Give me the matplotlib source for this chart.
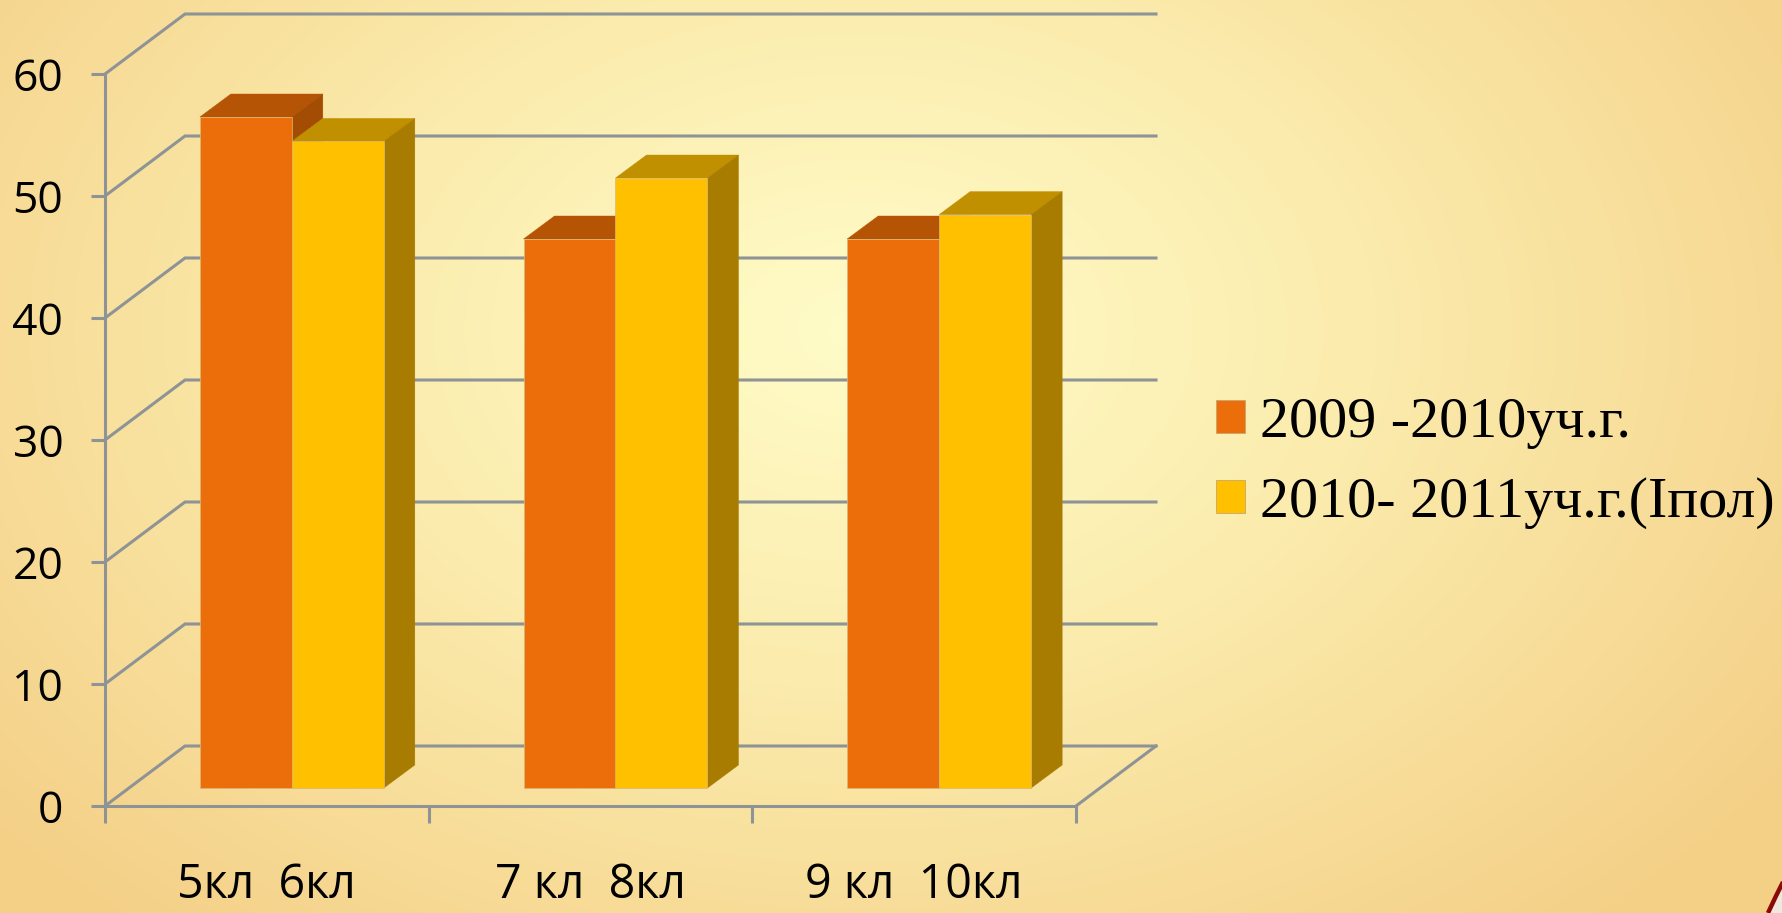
import numpy as np
import matplotlib
matplotlib.use("Agg")
import matplotlib.pyplot as plt
from matplotlib.patches import Polygon, Patch
from matplotlib.colors import LinearSegmentedColormap

categories = ["5кл  6кл", "7 кл  8кл", "9 кл  10кл"]
series_names = ["2009 -2010уч.г.", "2010- 2011уч.г.(Іпол)"]
series_2009 = [55, 45, 45]
series_2010 = [53, 50, 47]
y_ticks = [0, 10, 20, 30, 40, 50, 60]

W, H = 1783, 913
fig = plt.figure(figsize=(W / 100, H / 100), dpi=100)

# background gradient
bg = fig.add_axes([0, 0, 1, 1], zorder=0)
yy, xx = np.mgrid[0:H, 0:W]
r = np.sqrt(((xx - 860) / 1150) ** 2 + ((yy - 330) / 800) ** 2)
cmap = LinearSegmentedColormap.from_list("bg", [(0, "#FFFCC8"), (0.45, "#FBEBAC"), (1, "#F4CF86")])
bg.imshow(np.clip(r, 0, 1), cmap=cmap, vmin=0, vmax=1, aspect="auto", extent=(0, W, H, 0))
bg.set_xlim(0, W)
bg.set_ylim(H, 0)
bg.axis("off")
bg.add_patch(Polygon([(1783, 882), (1776, 896), (1768, 913), (1783, 913)], fc="#EEE9DC", ec="none"))
bg.plot([1783, 1776, 1768], [882, 896, 913], color="#8B0A05", lw=3.2, solid_capstyle="butt")

# chart axes = front plane of the 3D box
L, R, T, B = 105, 1076, 74, 806
ax = fig.add_axes([L / W, 1 - B / H, (R - L) / W, (B - T) / H], zorder=1)
ax.patch.set_alpha(0)
ax.set_xlim(0, 3)
ax.set_ylim(0, 60)
px_x = 3 / (R - L)
px_y = 60 / (B - T)

GRID = "#8E9396"
LW = 2.2
dx, dy = 80 * px_x, 60 * px_y

for v in y_ticks:
    ax.plot([0, dx, 3 + dx], [v, v + dy, v + dy], color=GRID, lw=LW, clip_on=False, zorder=1,
            solid_joinstyle="miter")
ax.plot([3, 3 + dx], [0, dy], color=GRID, lw=LW, clip_on=False, zorder=1)

for s in ("top", "right"):
    ax.spines[s].set_visible(False)
for s in ("left", "bottom"):
    ax.spines[s].set_color(GRID)
    ax.spines[s].set_linewidth(LW)

ax.set_yticks(y_ticks)
ax.set_xticks([0, 1, 2, 3])
ax.set_xticklabels([])
ax.set_xticks([0.5, 1.5, 2.5], labels=categories, minor=True)
ax.tick_params(axis="y", length=10, width=LW, color=GRID, pad=20, labelsize=32)
ax.tick_params(axis="x", which="major", length=12, width=LW, color=GRID)
ax.tick_params(axis="x", which="minor", length=0, pad=40, labelsize=33.5)
for lab in ax.get_yticklabels() + ax.get_xticklabels(minor=True):
    lab.set_fontfamily("Open Sans")

# bars
bw = 92 * px_x
shift = 25 * px_x
floor = 18 * px_y
bdx, bdy = 31 * px_x, 23 * px_y
styles = [("#EC6E0A", "#B55404", "#A34C03"), ("#FFC000", "#C09000", "#A87C00")]
EDGE = "#D9B878"

for i, vals in enumerate([series_2009, series_2010]):
    front, top, side = styles[i]
    xs = np.arange(3) + 0.5 + shift + (i - 1) * bw
    ax.bar(xs, vals, width=bw, bottom=floor, align="edge", color=front, edgecolor=EDGE,
           linewidth=0.5, zorder=3 + i * 2 + 0.5, clip_on=False)
    for x, v in zip(xs, vals):
        y = v + floor
        ax.add_patch(Polygon([(x, y), (x + bw, y), (x + bw + bdx, y + bdy), (x + bdx, y + bdy)],
                             fc=top, ec=top, lw=0.3, zorder=3 + i * 2, clip_on=False))
        ax.add_patch(Polygon([(x + bw, y), (x + bw + bdx, y + bdy), (x + bw + bdx, floor + bdy), (x + bw, floor)],
                             fc=side, ec=side, lw=0.3, zorder=3 + i * 2, clip_on=False))

handles = [Patch(fc=styles[0][0], ec="#C9A56A", lw=0.6), Patch(fc=styles[1][0], ec="#C9A56A", lw=0.6)]
leg = ax.legend(handles, series_names, loc="upper left", bbox_to_anchor=(1216 / W, 1 - 397 / H),
                bbox_transform=fig.transFigure, frameon=False, borderpad=0, borderaxespad=0,
                handlelength=0.5, handleheight=0.5, handletextpad=0.26, labelspacing=0.48,
                prop={"family": "Liberation Serif", "size": 41.75})

fig.savefig("out.png", dpi=100)
